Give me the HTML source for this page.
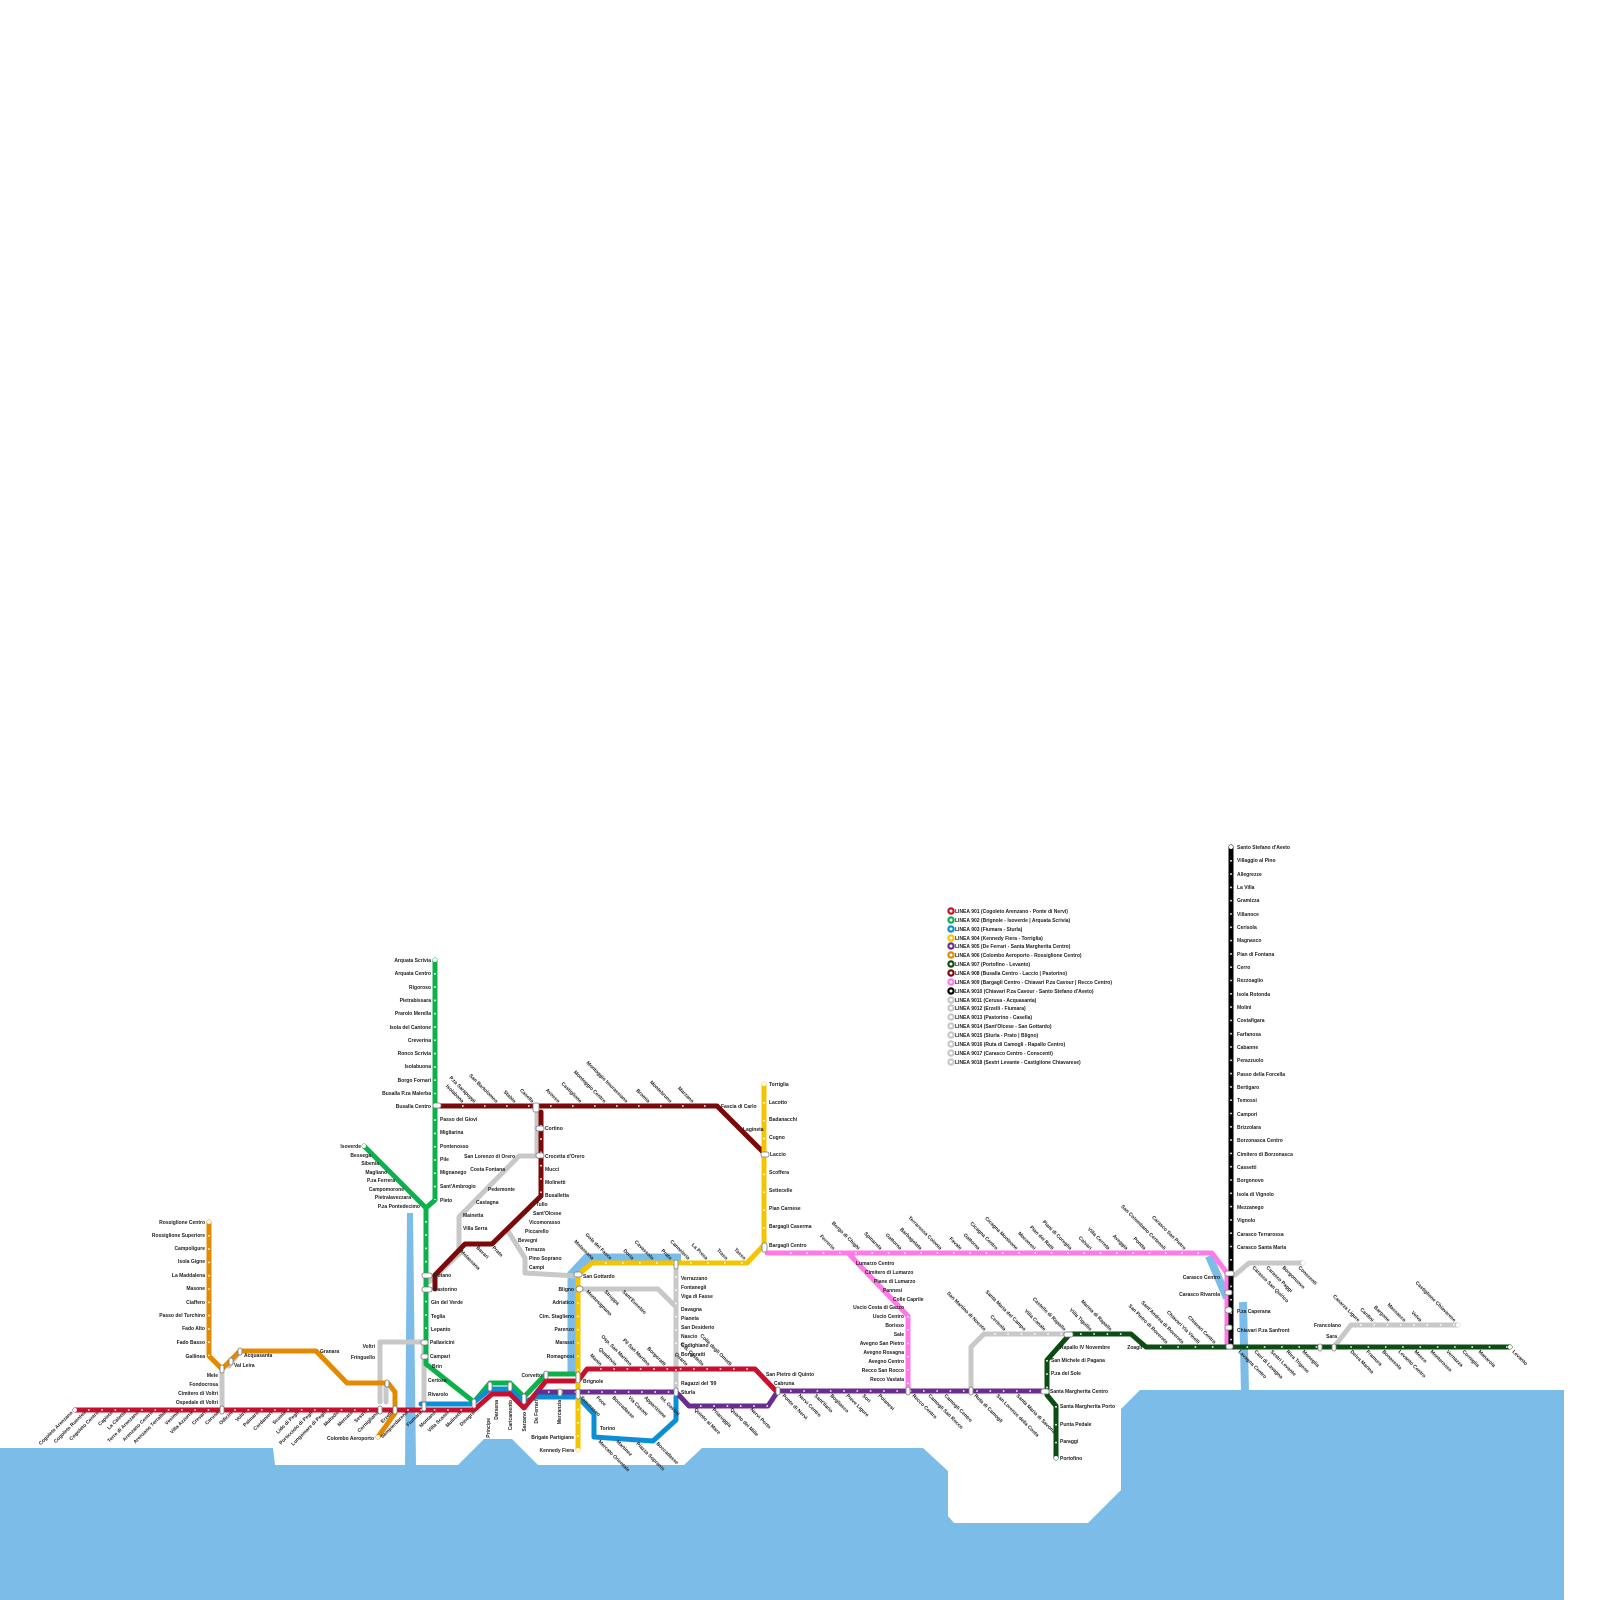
<!DOCTYPE html>
<html><head><meta charset="utf-8"><style>
html,body{margin:0;padding:0;background:#fff}
svg{display:block}
text{font-family:"Liberation Sans",sans-serif;font-size:5px;font-weight:bold;fill:#222}
.l{fill:none;stroke-linejoin:round;stroke-linecap:round;stroke-width:5}
.s{fill:#fff}
.x{fill:#fff;stroke:#777;stroke-width:.8}
</style></head><body>
<svg width="1600" height="1600" viewBox="0 0 1600 1600" xmlns="http://www.w3.org/2000/svg">
<!-- sea -->
<path d="M0,1448 L273,1448 L275,1465 L405,1465 L407,1213 L413,1213 L416,1465 L458,1465 L484,1439 L512,1439 L538,1465 L684,1465 L702,1448 L923,1448 L948,1471 L948,1516 L954,1523 L1088,1523 L1121,1490 L1121,1409 L1140,1390 L1564,1390 L1564,1600 L0,1600 Z" fill="#7bbde8"/>
<polyline points="572,1374 572,1274 587,1258 681,1258" fill="none" stroke="#7bbde8" stroke-width="9"/>
<polyline points="1209,1256 1227,1298" fill="none" stroke="#7bbde8" stroke-width="8"/>
<polyline points="1243,1302 1245,1392" fill="none" stroke="#7bbde8" stroke-width="8"/>

<!-- gray lines -->
<g class="l" stroke="#c8c8c8">
<polyline points="222,1369 222,1410"/>
<polyline points="229,1366 240,1351"/>
<polyline points="380,1402 380,1342 424,1342 424,1405"/>
<polyline points="386,1402 386,1385"/>
<polyline points="537,1106 537,1156 519,1156 459,1217 459,1254 429,1282"/>
<polyline points="508,1231 525,1258 525,1273 577,1276"/>
<polyline points="580,1289 658,1289 676,1307"/>
<polyline points="676,1263 676,1392"/>
<polyline points="971,1391 971,1347 984,1334 1070,1334"/>
<polyline points="1235,1275 1249,1263 1303,1263"/>
<polyline points="1334,1347 1351,1325 1458,1325"/>
<polyline points="1320,1347 1334,1347"/>
</g>
<!-- colored lines -->
<polyline class="l" stroke="#7a0a0a" points="438,1106 717,1106 765,1154"/>
<polyline class="l" stroke="#7a0a0a" points="541,1112 541,1196 492,1244 465,1244 435,1275 435,1289"/>
<polyline class="l" stroke="#0db14b" points="435,960 435,1200 426,1208 426,1364 474,1402 490,1383 510,1383 524,1397 546,1374 578,1374"/>
<polyline class="l" stroke="#0db14b" points="364,1146 426,1208"/>
<polyline class="l" stroke="#e38a00" points="209,1222 209,1356 222,1369 240,1351 316,1351 347,1383 388,1383 395,1392 395,1413 378,1437"/>
<polyline class="l" stroke="#0a8fd6" points="421,1404 472,1404 490,1389 510,1389 524,1402 536,1397 578,1397 594,1414 594,1437 653,1441 676,1420 676,1397"/>
<polyline class="l" stroke="#c8102e" points="75,1410 474,1410 492,1394 510,1394 524,1408 546,1381 578,1381 587,1369 755,1369 776,1391"/>
<polyline class="l" stroke="#f5c400" points="578,1450 578,1275 592,1263 747,1263 764,1245 764,1084"/>
<polyline class="l" stroke="#6a2c91" points="538,1392 676,1392 689,1406 768,1406 778,1391 1044,1391"/>
<polyline class="l" stroke="#ff7ae8" points="767,1253 1212,1253 1227,1273 1227,1346"/>
<polyline class="l" stroke="#ff7ae8" points="848,1253 908,1316 908,1391"/>
<polyline class="l" stroke="#000" points="1231,847 1231,1346"/>
<polyline class="l" stroke="#0b4d12" points="1056,1458 1056,1406 1047,1395 1047,1360 1070,1334 1131,1334 1146,1347 1510,1347"/>

<!-- station dots (sampled) -->
<g class="s">
<circle cx="75" cy="1410" r="2"/><circle cx="209" cy="1222" r="2"/><circle cx="364" cy="1146" r="2"/><circle cx="435" cy="960" r="2"/>
<circle cx="764" cy="1084" r="2"/><circle cx="1231" cy="847" r="2"/><circle cx="1056" cy="1458" r="2"/><circle cx="1510" cy="1347" r="2"/>
<circle cx="578" cy="1450" r="2"/><circle cx="378" cy="1437" r="2"/><circle cx="1458" cy="1325" r="2"/><circle cx="1303" cy="1263" r="2"/>
</g>
<g fill="#fff">
<!-- red -->
<path d="M88,1410h0M101,1410h0" />
</g>
<g stroke="#fff" stroke-width="1.6" stroke-dasharray="1.6 11.7" fill="none">
<line x1="88" y1="1410" x2="470" y2="1410"/>
<line x1="600" y1="1369" x2="755" y2="1369"/>
<line x1="435" y1="973" x2="435" y2="1200"/>
<line x1="426" y1="1221" x2="426" y2="1360"/>
<line x1="209" y1="1235" x2="209" y2="1356"/>
<line x1="764" y1="1102" x2="764" y2="1245" stroke-dasharray="1.6 16.3"/>
<line x1="578" y1="1289" x2="578" y2="1450"/>
<line x1="462" y1="1106" x2="717" y2="1106" stroke-dasharray="1.6 20.4"/>
<line x1="541" y1="1125" x2="541" y2="1196"/>
<line x1="1231" y1="860" x2="1231" y2="1346"/>
<line x1="790" y1="1391" x2="1044" y2="1391"/>
<line x1="700" y1="1406" x2="768" y2="1406"/>
<line x1="548" y1="1392" x2="676" y2="1392"/>
<line x1="790" y1="1253" x2="1212" y2="1253" stroke-dasharray="1.6 14.7"/>
<line x1="908" y1="1316" x2="908" y2="1391"/>
<line x1="1160" y1="1347" x2="1510" y2="1347" stroke-dasharray="1.6 15.7"/>
<line x1="1056" y1="1406" x2="1056" y2="1458" stroke-dasharray="1.6 16.3"/>
<line x1="1047" y1="1360" x2="1047" y2="1395"/>
<line x1="605" y1="1263" x2="747" y2="1263" stroke-dasharray="1.6 15.4"/>
<line x1="676" y1="1276" x2="676" y2="1392"/>
<line x1="994" y1="1334" x2="1070" y2="1334"/>
<line x1="1360" y1="1325" x2="1458" y2="1325"/>
<line x1="1080" y1="1334" x2="1131" y2="1334"/>
</g>
<!-- interchanges -->
<g class="x">
<rect x="433" y="1103" width="8" height="5" rx="2"/><rect x="533" y="1103" width="6" height="9" rx="2"/>
<rect x="536" y="1126" width="8" height="5" rx="2"/><rect x="536" y="1153" width="8" height="5" rx="2"/>
<rect x="761" y="1152" width="8" height="5" rx="2"/><rect x="762" y="1243" width="5" height="9" rx="2"/>
<rect x="422" y="1273" width="10" height="5" rx="2"/><rect x="422" y="1287" width="10" height="5" rx="2"/>
<rect x="421" y="1340" width="7" height="5" rx="2"/><rect x="421" y="1354" width="7" height="5" rx="2"/>
<rect x="574" y="1272" width="8" height="5" rx="2"/><rect x="576" y="1286" width="7" height="6" rx="3"/>
<rect x="674" y="1260" width="4" height="9" rx="2"/><rect x="1225" y="1271" width="9" height="5" rx="2"/>
<rect x="1225" y="1290" width="7" height="5" rx="2"/><rect x="1225" y="1307" width="7" height="6" rx="3"/>
<rect x="1225" y="1325" width="7" height="5" rx="2"/><rect x="1226" y="1344" width="7" height="5" rx="2"/>
<rect x="1064" y="1332" width="9" height="5" rx="2"/><rect x="1041" y="1389" width="8" height="5" rx="2"/>
<rect x="906" y="1387" width="4" height="8" rx="2"/><rect x="969" y="1387" width="4" height="8" rx="2"/>
<rect x="776" y="1387" width="4" height="8" rx="2"/><rect x="674" y="1388" width="4" height="8" rx="2"/>
<rect x="576" y="1372" width="4" height="11" rx="2"/><rect x="576" y="1389" width="4" height="10" rx="2"/>
<rect x="558" y="1389" width="4" height="7" rx="2"/><rect x="544" y="1371" width="4" height="8" rx="2"/>
<rect x="220" y="1365" width="4" height="8" rx="2"/><rect x="220" y="1406" width="4" height="8" rx="2"/>
<rect x="238" y="1348" width="4" height="7" rx="2"/><rect x="229" y="1358" width="4" height="7" rx="2"/>
<rect x="378" y="1406" width="4" height="8" rx="2"/><rect x="393" y="1406" width="4" height="8" rx="2"/>
<rect x="385" y="1380" width="4" height="7" rx="2"/><rect x="422" y="1402" width="4" height="9" rx="2"/>
<rect x="488" y="1382" width="4" height="9" rx="2"/><rect x="508" y="1382" width="4" height="9" rx="2"/>
<rect x="522" y="1394" width="4" height="10" rx="2"/><rect x="472" y="1399" width="4" height="9" rx="2"/>
<rect x="1318" y="1344" width="4" height="7" rx="2"/><rect x="1332" y="1344" width="4" height="7" rx="2"/>
</g>

<!-- legend -->
<g>
<g stroke-width="2.2" fill="#fff">
<circle cx="951" cy="911" r="2.6" stroke="#c8102e"/><circle cx="951" cy="920" r="2.6" stroke="#0db14b"/>
<circle cx="951" cy="929" r="2.6" stroke="#0a8fd6"/><circle cx="951" cy="938" r="2.6" stroke="#f5c400"/>
<circle cx="951" cy="946" r="2.6" stroke="#6a2c91"/><circle cx="951" cy="955" r="2.6" stroke="#e38a00"/>
<circle cx="951" cy="964" r="2.6" stroke="#0b4d12"/><circle cx="951" cy="973" r="2.6" stroke="#7a0a0a"/>
<circle cx="951" cy="982" r="2.6" stroke="#ff7ae8"/><circle cx="951" cy="991" r="2.6" stroke="#000"/>
<circle cx="951" cy="1000" r="2.6" stroke="#c8c8c8"/><circle cx="951" cy="1008" r="2.6" stroke="#c8c8c8"/>
<circle cx="951" cy="1017" r="2.6" stroke="#c8c8c8"/><circle cx="951" cy="1026" r="2.6" stroke="#c8c8c8"/>
<circle cx="951" cy="1035" r="2.6" stroke="#c8c8c8"/><circle cx="951" cy="1044" r="2.6" stroke="#c8c8c8"/>
<circle cx="951" cy="1053" r="2.6" stroke="#c8c8c8"/><circle cx="951" cy="1062" r="2.6" stroke="#c8c8c8"/>
</g>
<text x="955" y="913">LINEA 901 (Cogoleto Arenzano - Ponte di Nervi)</text>
<text x="955" y="922">LINEA 902 (Brignole - Isoverde | Arquata Scrivia)</text>
<text x="955" y="931">LINEA 903 (Fiumara - Sturla)</text>
<text x="955" y="940">LINEA 904 (Kennedy Fiera - Torriglia)</text>
<text x="955" y="948">LINEA 905 (De Ferrari - Santa Margherita Centro)</text>
<text x="955" y="957">LINEA 906 (Colombo Aeroporto - Rossiglione Centro)</text>
<text x="955" y="966">LINEA 907 (Portofino - Levanto)</text>
<text x="955" y="975">LINEA 908 (Busalla Centro - Laccio | Pastorino)</text>
<text x="955" y="984">LINEA 909 (Bargagli Centro - Chiavari P.za Cavour | Recco Centro)</text>
<text x="955" y="993">LINEA 9010 (Chiavari P.za Cavour - Santo Stefano d'Aveto)</text>
<text x="955" y="1002">LINEA 9011 (Cerusa - Acquasanta)</text>
<text x="955" y="1010">LINEA 9012 (Erzelli - Fiumara)</text>
<text x="955" y="1019">LINEA 9013 (Pastorino - Casella)</text>
<text x="955" y="1028">LINEA 9014 (Sant'Olcese - San Gottardo)</text>
<text x="955" y="1037">LINEA 9015 (Sturla - Prato | Bligno)</text>
<text x="955" y="1046">LINEA 9016 (Ruta di Camogli - Rapallo Centro)</text>
<text x="955" y="1055">LINEA 9017 (Carasco Centro - Conscenti)</text>
<text x="955" y="1064">LINEA 9018 (Sestri Levante - Castiglione Chiavarese)</text>
</g>

<!-- green labels -->
<g text-anchor="end">
<text x="431" y="962">Arquata Scrivia</text><text x="431" y="975">Arquata Centro</text><text x="431" y="989">Rigoroso</text>
<text x="431" y="1002">Pietrabissara</text><text x="431" y="1015">Prarolo Merella</text><text x="431" y="1029">Isola del Cantone</text>
<text x="431" y="1042">Creverina</text><text x="431" y="1055">Ronco Scrivia</text><text x="431" y="1068">Isolabuona</text>
<text x="431" y="1082">Borgo Fornari</text><text x="431" y="1095">Busalla P.za Malerba</text><text x="431" y="1108">Busalla Centro</text>
<text x="361" y="1148">Isoverde</text><text x="371" y="1157">Bessega</text><text x="379" y="1165">Sibenia</text>
<text x="387" y="1174">Magliano</text><text x="395" y="1182">P.za Ferrera</text><text x="404" y="1191">Campomorone</text>
<text x="411" y="1199">Pietralavezzara</text><text x="420" y="1208">P.za Pontedecimo</text>
<text x="205" y="1224">Rossiglione Centro</text><text x="205" y="1237">Rossiglione Superiore</text><text x="205" y="1250">Campoligure</text>
<text x="205" y="1263">Isola Gigne</text><text x="205" y="1277">La Maddalena</text><text x="205" y="1290">Masone</text>
<text x="205" y="1304">Ciaffero</text><text x="205" y="1317">Passo del Turchino</text><text x="205" y="1330">Fado Alto</text>
<text x="205" y="1344">Fado Basso</text><text x="205" y="1358">Gallinea</text>
<text x="218" y="1377">Mele</text><text x="218" y="1386">Fondocrosa</text><text x="218" y="1395">Cimitero di Voltri</text><text x="218" y="1404">Ospedale di Voltri</text>
<text x="375" y="1348">Voltri</text><text x="375" y="1359">Fringuello</text><text x="374" y="1440">Colombo Aeroporto</text>
<text x="574" y="1291">Bligno</text><text x="574" y="1304">Adriatico</text><text x="574" y="1318">Cim. Staglieno</text>
<text x="574" y="1331">Parenzo</text><text x="574" y="1344">Marassi</text><text x="574" y="1358">Romagnosi</text>
<text x="542" y="1377">Corvetto</text><text x="574" y="1439">Brigate Partigiane</text><text x="574" y="1452">Kennedy Fiera</text>
<text x="515" y="1158">San Lorenzo di Orero</text><text x="505" y="1171">Costa Fontana</text>
<text x="904" y="1309">Uscio Costa di Gazzo</text><text x="904" y="1318">Uscio Centro</text><text x="904" y="1327">Borisso</text>
<text x="904" y="1336">Sale</text><text x="904" y="1345">Avegno San Pietro</text><text x="904" y="1354">Avegno Rosagna</text>
<text x="904" y="1363">Avegno Centro</text><text x="904" y="1372">Recco San Rocco</text><text x="904" y="1381">Recco Vastata</text>
<text x="1220" y="1279">Carasco Centro</text><text x="1220" y="1296">Carasco Rivarola</text>
<text x="1142" y="1349">Zoagli</text><text x="1341" y="1327">Francolano</text><text x="1337" y="1338">Sara</text>
</g>
<g>
<text x="440" y="1121">Passo dei Giovi</text><text x="440" y="1134">Migliarina</text><text x="440" y="1148">Pontenosso</text>
<text x="440" y="1161">Pile</text><text x="440" y="1174">Mignanego</text><text x="440" y="1188">Sant'Ambrogio</text><text x="440" y="1202">Pieto</text>
<text x="434" y="1277">Cotano</text><text x="434" y="1291">Pastorino</text><text x="431" y="1304">Gin del Verde</text>
<text x="431" y="1318">Teglia</text><text x="431" y="1331">Lepanto</text><text x="430" y="1344">Pallavicini</text>
<text x="430" y="1358">Campari</text><text x="432" y="1368">Brin</text><text x="428" y="1382">Certosa</text><text x="428" y="1396">Rivarolo</text>
<text x="545" y="1130">Cortino</text><text x="545" y="1158">Crocetta d'Orero</text><text x="545" y="1171">Mucci</text>
<text x="545" y="1184">Molinetti</text><text x="545" y="1197">Busalletta</text><text x="536" y="1206">Tullo</text>
<text x="533" y="1215">Sant'Olcese</text><text x="529" y="1224">Vicomorasso</text><text x="525" y="1233">Piccarello</text>
<text x="518" y="1242">Bevegni</text><text x="525" y="1251">Terrazza</text><text x="529" y="1260">Pino Soprano</text><text x="529" y="1269">Campi</text>
<text x="488" y="1191">Pedemonte</text><text x="476" y="1204">Castagna</text><text x="463" y="1217">Mainetta</text><text x="463" y="1230">Villa Serra</text>
<text x="721" y="1108">Fascia di Carlo</text><text x="743" y="1131">Lagineta</text>
<text x="769" y="1086">Torriglia</text><text x="769" y="1104">Lacotto</text><text x="769" y="1121">Badanacchi</text>
<text x="769" y="1139">Cugno</text><text x="770" y="1156">Laccio</text><text x="769" y="1174">Scoffera</text>
<text x="769" y="1192">Settecelle</text><text x="769" y="1210">Pian Carnese</text><text x="769" y="1228">Bargagli Caserma</text>
<text x="769" y="1247">Bargagli Centro</text>
<text x="583" y="1278">San Gottardo</text><text x="583" y="1383">Brignole</text>
<text x="681" y="1280">Verrazzano</text><text x="681" y="1289">Fontanegli</text><text x="681" y="1298">Viga di Fasse</text>
<text x="681" y="1311">Davagna</text><text x="681" y="1320">Pianeta</text><text x="681" y="1329">San Desiderio</text>
<text x="681" y="1338">Nascio</text><text x="681" y="1347">Codighiano</text><text x="681" y="1356">Borgoratti</text>
<text x="681" y="1385">Ragazzi del '99</text><text x="681" y="1394">Sturla</text><text x="600" y="1430">Torino</text>
<text x="766" y="1376">San Pietro di Quinto</text><text x="774" y="1385">Cabruna</text>
<text x="856" y="1265">Lumarzo Centro</text><text x="865" y="1274">Cimitero di Lumarzo</text><text x="874" y="1283">Piane di Lumarzo</text>
<text x="883" y="1292">Pannesi</text><text x="893" y="1301">Colle Caprile</text>
<text x="1237" y="849">Santo Stefano d'Aveto</text><text x="1237" y="862">Villaggio al Pino</text><text x="1237" y="876">Allegrezze</text>
<text x="1237" y="889">La Villa</text><text x="1237" y="902">Gramizza</text><text x="1237" y="916">Villanoce</text>
<text x="1237" y="929">Cerisola</text><text x="1237" y="942">Magnasco</text><text x="1237" y="956">Pian di Fontana</text>
<text x="1237" y="969">Cerro</text><text x="1237" y="982">Rezzoaglio</text><text x="1237" y="996">Isola Rotonda</text>
<text x="1237" y="1009">Molini</text><text x="1237" y="1022">Costafigara</text><text x="1237" y="1036">Farfanosa</text>
<text x="1237" y="1049">Cabanne</text><text x="1237" y="1062">Perazzuolo</text><text x="1237" y="1076">Passo della Forcella</text>
<text x="1237" y="1089">Bertigaro</text><text x="1237" y="1102">Temossi</text><text x="1237" y="1116">Campori</text>
<text x="1237" y="1129">Brizzolara</text><text x="1237" y="1142">Borzonasca Centro</text><text x="1237" y="1156">Cimitero di Borzonasca</text>
<text x="1237" y="1169">Cassetti</text><text x="1237" y="1182">Borgonovo</text><text x="1237" y="1196">Isola di Vignolo</text>
<text x="1237" y="1209">Mezzanego</text><text x="1237" y="1222">Vignolo</text><text x="1237" y="1236">Carasco Terrarossa</text>
<text x="1237" y="1249">Carasco Santa Maria</text><text x="1237" y="1313">P.za Caperana</text><text x="1237" y="1332">Chiavari P.za Sanfront</text>
<text x="1060" y="1349">Rapallo IV Novembre</text><text x="1051" y="1362">San Michele di Pagana</text><text x="1051" y="1375">P.za del Sole</text>
<text x="1050" y="1393">Santa Margherita Centro</text><text x="1060" y="1408">Santa Margherita Porto</text>
<text x="1060" y="1426">Punta Pedale</text><text x="1060" y="1443">Paraggi</text><text x="1060" y="1460">Portofino</text>
<text x="244" y="1357">Acquasanta</text><text x="234" y="1367">Val Leira</text><text x="320" y="1353">Granara</text>
</g>

<!-- rotated labels: below red main line -->
<g text-anchor="end" font-size="5">
<text transform="translate(73,1413) rotate(-45)">Cogoleto Arenzano</text>
<text transform="translate(86,1413) rotate(-45)">Cogoleto Ruentes</text>
<text transform="translate(99,1413) rotate(-45)">Cogoleto Centro</text>
<text transform="translate(113,1413) rotate(-45)">Capieto</text>
<text transform="translate(126,1413) rotate(-45)">La Caletta</text>
<text transform="translate(139,1413) rotate(-45)">Terre di Arenzano</text>
<text transform="translate(153,1413) rotate(-45)">Arenzano Centro</text>
<text transform="translate(166,1413) rotate(-45)">Arenzano Terralba</text>
<text transform="translate(179,1413) rotate(-45)">Vesima</text>
<text transform="translate(193,1413) rotate(-45)">Villa Azzurra</text>
<text transform="translate(206,1413) rotate(-45)">Crevari</text>
<text transform="translate(219,1413) rotate(-45)">Cerusa</text>
<text transform="translate(233,1413) rotate(-45)">Odicini</text>
<text transform="translate(246,1413) rotate(-45)">Voltri</text>
<text transform="translate(259,1413) rotate(-45)">Palmaro</text>
<text transform="translate(273,1413) rotate(-45)">Cordanieri</text>
<text transform="translate(286,1413) rotate(-45)">Scuola</text>
<text transform="translate(299,1413) rotate(-45)">Lido di Pegli</text>
<text transform="translate(313,1413) rotate(-45)">Porticciolo di Pegli</text>
<text transform="translate(326,1413) rotate(-45)">Lungomare di Pegli</text>
<text transform="translate(339,1413) rotate(-45)">Multedo</text>
<text transform="translate(353,1413) rotate(-45)">Mercato</text>
<text transform="translate(366,1413) rotate(-45)">Sestri</text>
<text transform="translate(379,1413) rotate(-45)">Cornigliano</text>
<text transform="translate(393,1413) rotate(-45)">Erzelli</text>
<text transform="translate(408,1413) rotate(-45)">Sampierdarena</text>
<text transform="translate(422,1413) rotate(-45)">Fiumara</text>
<text transform="translate(436,1413) rotate(-45)">Montano</text>
<text transform="translate(449,1413) rotate(-45)">Villa Scassi</text>
<text transform="translate(462,1413) rotate(-45)">Mulinetti</text>
<text transform="translate(475,1413) rotate(-45)">Dinegro</text>
</g>
<g font-size="5">
<text transform="translate(490,1418) rotate(-90)" text-anchor="end">Principe</text>
<text transform="translate(498,1400) rotate(-90)" text-anchor="end">Darsena</text>
<text transform="translate(512,1400) rotate(-90)" text-anchor="end">Caricamento</text>
<text transform="translate(526,1412) rotate(-90)" text-anchor="end">Sarzano</text>
<text transform="translate(538,1400) rotate(-90)" text-anchor="end">De Ferrari</text>
<text transform="translate(561,1400) rotate(-90)" text-anchor="end">Mercanzia</text>
</g>
<!-- rotated labels above dark red -->
<g text-anchor="end">
<text transform="translate(462,1103) rotate(45)">Isolabona</text>
<text transform="translate(474,1103) rotate(45)">P.za Sarapuppi</text>
<text transform="translate(496,1103) rotate(45)">San Bartolomeo</text>
<text transform="translate(514,1103) rotate(45)">Stabio</text>
<text transform="translate(532,1103) rotate(45)">Casella</text>
<text transform="translate(558,1103) rotate(45)">Avosso</text>
<text transform="translate(580,1103) rotate(45)">Castiglione</text>
<text transform="translate(604,1103) rotate(45)">Montoggio Centro</text>
<text transform="translate(626,1103) rotate(45)">Montoggio Imurassiano</text>
<text transform="translate(648,1103) rotate(45)">Bromia</text>
<text transform="translate(670,1103) rotate(45)">Montebruno</text>
<text transform="translate(692,1103) rotate(45)">Marzano</text>
<!-- yellow top -->
<text transform="translate(592,1260) rotate(45)">Molassana</text>
<text transform="translate(610,1260) rotate(45)">Gola del Fasce</text>
<text transform="translate(632,1260) rotate(45)">Doria</text>
<text transform="translate(652,1260) rotate(45)">Cavassolo</text>
<text transform="translate(670,1260) rotate(45)">Prato</text>
<text transform="translate(688,1260) rotate(45)">Canneleria</text>
<text transform="translate(706,1260) rotate(45)">La Presa</text>
<text transform="translate(726,1260) rotate(45)">Traso</text>
<text transform="translate(744,1260) rotate(45)">Tasso</text>
<!-- red top -->
<text transform="translate(600,1366) rotate(45)">Manin</text>
<text transform="translate(615,1366) rotate(45)">Quadrivio</text>
<text transform="translate(630,1366) rotate(45)">Osp. San Martino</text>
<text transform="translate(648,1366) rotate(45)">Pil San Martino</text>
<text transform="translate(664,1366) rotate(45)">Borgoratti</text>
<text transform="translate(686,1366) rotate(45)">Quarto</text>
<text transform="translate(702,1366) rotate(45)">G.B. Castello</text>
<text transform="translate(730,1366) rotate(45)">Colle degli Ometti</text>
<!-- pink top -->
<text transform="translate(833,1250) rotate(45)">Ferrerio</text>
<text transform="translate(858,1250) rotate(45)">Borgo di Chighi</text>
<text transform="translate(880,1250) rotate(45)">Spinarola</text>
<text transform="translate(900,1250) rotate(45)">Gattorna</text>
<text transform="translate(920,1250) rotate(45)">Barbagelata</text>
<text transform="translate(940,1250) rotate(45)">Terrarossa Colonia</text>
<text transform="translate(960,1250) rotate(45)">Favale</text>
<text transform="translate(978,1250) rotate(45)">Gattorna</text>
<text transform="translate(996,1250) rotate(45)">Cicagna Centro</text>
<text transform="translate(1016,1250) rotate(45)">Cicagna Monleone</text>
<text transform="translate(1034,1250) rotate(45)">Moconesi</text>
<text transform="translate(1052,1250) rotate(45)">Pian dei Ratti</text>
<text transform="translate(1070,1250) rotate(45)">Piani di Coreglia</text>
<text transform="translate(1090,1250) rotate(45)">Calvari</text>
<text transform="translate(1108,1250) rotate(45)">Villa Cerreta</text>
<text transform="translate(1126,1250) rotate(45)">Aveggia</text>
<text transform="translate(1144,1250) rotate(45)">Pontta</text>
<text transform="translate(1164,1250) rotate(45)">San Colombano Certenoli</text>
<text transform="translate(1184,1250) rotate(45)">Carasco San Pietro</text>
<!-- gray rapallo / dark green top -->
<text transform="translate(984,1331) rotate(45)">San Martino di Noceto</text>
<text transform="translate(1004,1331) rotate(45)">Cerisola</text>
<text transform="translate(1024,1331) rotate(45)">Santa Maria del Campo</text>
<text transform="translate(1044,1331) rotate(45)">Villa Canale</text>
<text transform="translate(1064,1331) rotate(45)">Castello di Rapallo</text>
<text transform="translate(1090,1331) rotate(45)">Villa Tigullio</text>
<text transform="translate(1110,1331) rotate(45)">Marina di Rapallo</text>
<text transform="translate(1166,1344) rotate(45)">San Pietro di Rovereto</text>
<text transform="translate(1182,1344) rotate(45)">Sant'Andrea di Rovereto</text>
<text transform="translate(1198,1344) rotate(45)">Chiavari Via Vinelli</text>
<text transform="translate(1214,1344) rotate(45)">Chiavari Centro</text>
<text transform="translate(1358,1322) rotate(45)">Casarza Ligure</text>
<text transform="translate(1372,1322) rotate(45)">Cardini</text>
<text transform="translate(1388,1322) rotate(45)">Bargone</text>
<text transform="translate(1404,1322) rotate(45)">Massasco</text>
<text transform="translate(1420,1322) rotate(45)">Velva</text>
<text transform="translate(1454,1322) rotate(45)">Castiglione Chiavarese</text>
</g>
<!-- rotated labels below (start) -->
<g>
<text transform="translate(1238,1352) rotate(45)">Lavagna Centro</text>
<text transform="translate(1254,1352) rotate(45)">Cavi di Lavagna</text>
<text transform="translate(1270,1352) rotate(45)">Sestri Levante</text>
<text transform="translate(1286,1352) rotate(45)">Riva Trigoso</text>
<text transform="translate(1302,1352) rotate(45)">Moneglia</text>
<text transform="translate(1350,1352) rotate(45)">Deiva Marina</text>
<text transform="translate(1366,1352) rotate(45)">Framura</text>
<text transform="translate(1382,1352) rotate(45)">Bonassola</text>
<text transform="translate(1398,1352) rotate(45)">Levanto Centro</text>
<text transform="translate(1414,1352) rotate(45)">Mesco</text>
<text transform="translate(1430,1352) rotate(45)">Monterosso</text>
<text transform="translate(1446,1352) rotate(45)">Vernazza</text>
<text transform="translate(1462,1352) rotate(45)">Corniglia</text>
<text transform="translate(1478,1352) rotate(45)">Manarola</text>
<text transform="translate(1512,1352) rotate(45)">Levanto</text>
<text transform="translate(1252,1268) rotate(45)">Carasco San Quirico</text>
<text transform="translate(1266,1268) rotate(45)">Carasco Paggi</text>
<text transform="translate(1282,1268) rotate(45)">Borgonuovo</text>
<text transform="translate(1298,1268) rotate(45)">Conscenti</text>
<text transform="translate(782,1396) rotate(45)">Ponte di Nervi</text>
<text transform="translate(798,1396) rotate(45)">Nervi Centro</text>
<text transform="translate(814,1396) rotate(45)">Sant'Ilario</text>
<text transform="translate(830,1396) rotate(45)">Bogliasco</text>
<text transform="translate(846,1396) rotate(45)">Pieve Ligure</text>
<text transform="translate(862,1396) rotate(45)">Sori</text>
<text transform="translate(878,1396) rotate(45)">Polanesi</text>
<text transform="translate(912,1396) rotate(45)">Recco Centro</text>
<text transform="translate(928,1396) rotate(45)">Camogli San Rocco</text>
<text transform="translate(944,1396) rotate(45)">Camogli Centro</text>
<text transform="translate(974,1396) rotate(45)">Ruta di Camogli</text>
<text transform="translate(996,1396) rotate(45)">San Lorenzo della Costa</text>
<text transform="translate(1016,1396) rotate(45)">Santa Maria di Savona</text>
<text transform="translate(580,1398) rotate(45)">Tommaseo</text>
<text transform="translate(596,1398) rotate(45)">Foce</text>
<text transform="translate(612,1398) rotate(45)">Boccadasse</text>
<text transform="translate(628,1398) rotate(45)">Via Casoni</text>
<text transform="translate(644,1398) rotate(45)">Apparizione</text>
<text transform="translate(660,1398) rotate(45)">Ist. Gaslini</text>
<text transform="translate(694,1410) rotate(45)">Quinto al Mare</text>
<text transform="translate(712,1410) rotate(45)">Priaruggia</text>
<text transform="translate(730,1410) rotate(45)">Quarto dei Mille</text>
<text transform="translate(750,1410) rotate(45)">Nervi Porto</text>
<text transform="translate(598,1442) rotate(45)">Mercato Orientale</text>
<text transform="translate(616,1442) rotate(45)">Martinez</text>
<text transform="translate(636,1444) rotate(45)">Piazza Sopranis</text>
<text transform="translate(656,1444) rotate(45)">Boccadasse</text>
<text transform="translate(586,1292) rotate(45)">Montesignano</text>
<text transform="translate(604,1292) rotate(45)">Struppa</text>
<text transform="translate(622,1292) rotate(45)">Sant'Eusebio</text>
<text transform="translate(460,1252) rotate(45)">Molassana</text>
<text transform="translate(476,1248) rotate(45)">Bavari</text>
<text transform="translate(492,1248) rotate(45)">Prato</text>
</g>
</svg>
</body></html>
